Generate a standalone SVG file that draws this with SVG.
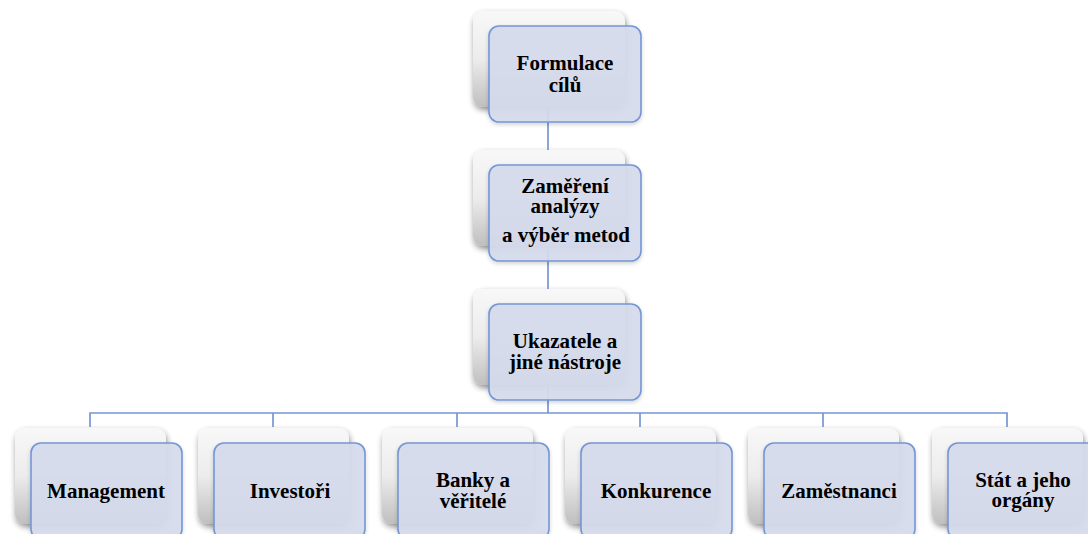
<svg xmlns="http://www.w3.org/2000/svg" width="1088" height="534" viewBox="0 0 1088 534">
  <defs>
    <linearGradient id="backFill" x1="0" y1="0" x2="0" y2="1">
      <stop offset="0" stop-color="#f8f8f8"/>
      <stop offset="0.5" stop-color="#ececec"/>
      <stop offset="1" stop-color="#bfbfbf"/>
    </linearGradient>
    <filter id="shadow" x="-10%" y="-10%" width="125%" height="130%">
      <feGaussianBlur in="SourceAlpha" stdDeviation="3"/>
      <feOffset dx="1" dy="3" result="b"/>
      <feComponentTransfer><feFuncA type="linear" slope="0.45"/></feComponentTransfer>
      <feMerge><feMergeNode/><feMergeNode in="SourceGraphic"/></feMerge>
    </filter>
    <filter id="softShadow" x="-10%" y="-10%" width="125%" height="130%">
      <feGaussianBlur in="SourceAlpha" stdDeviation="2"/>
      <feOffset dx="0" dy="2" result="b"/>
      <feComponentTransfer><feFuncA type="linear" slope="0.18"/></feComponentTransfer>
      <feMerge><feMergeNode/><feMergeNode in="SourceGraphic"/></feMerge>
    </filter>
  </defs>
  <style>
    .back { fill: url(#backFill); filter: url(#shadow); }
    .front { fill: #d6dcee; fill-opacity: 0.93; stroke: #7596d4; stroke-width: 1.6; filter: url(#softShadow); }
    .conn { fill: none; stroke: #7596d4; stroke-width: 1.7; }
    text { font-family: "Liberation Serif", "Times New Roman", serif; font-weight: bold; font-size: 21px; fill: #000; text-anchor: middle; }
  </style>

  <rect width="1088" height="534" fill="#ffffff"/>

  <!-- back cards (drawn first so connectors sit on top of them) -->
  <g id="backs">
    <rect class="back" x="473" y="11" width="152" height="96" rx="10"/>
    <rect class="back" x="473" y="150" width="152" height="96" rx="10"/>
    <rect class="back" x="473" y="289" width="152" height="96" rx="10"/>
    <rect class="back" x="15" y="428" width="151" height="96" rx="10"/>
    <rect class="back" x="198" y="428" width="151" height="96" rx="10"/>
    <rect class="back" x="382" y="428" width="151" height="96" rx="10"/>
    <rect class="back" x="565" y="428" width="151" height="96" rx="10"/>
    <rect class="back" x="748" y="428" width="151" height="96" rx="10"/>
    <rect class="back" x="932" y="428" width="151" height="96" rx="10"/>
  </g>

  <!-- connectors -->
  <g id="connectors">
    <path class="conn" d="M548,106 V150"/>
    <path class="conn" d="M548,245 V289"/>
    <path class="conn" d="M548,384 V413"/>
    <path class="conn" d="M90,427 V413 H1007 V427"/>
    <path class="conn" d="M273,413 V427"/>
    <path class="conn" d="M457,413 V427"/>
    <path class="conn" d="M640,413 V427"/>
    <path class="conn" d="M823,413 V427"/>
  </g>

  <g id="node-formulace">
    <rect class="front" x="489" y="26" width="152" height="96" rx="10"/>
    <text x="565" y="70">Formulace</text>
    <text x="565" y="92">cílů</text>
  </g>

  <g id="node-zamereni">
    <rect class="front" x="489" y="165" width="152" height="96" rx="10"/>
    <text x="565" y="193">Zaměření</text>
    <text x="565" y="213">analýzy</text>
    <text x="566" y="242">a výběr metod</text>
  </g>

  <g id="node-ukazatele">
    <rect class="front" x="489" y="304" width="152" height="96" rx="10"/>
    <text x="565" y="348">Ukazatele a</text>
    <text x="565" y="369">jiné nástroje</text>
  </g>

  <g id="node-management">
    <rect class="front" x="31" y="443" width="151" height="96" rx="10"/>
    <text x="106" y="498">Management</text>
  </g>

  <g id="node-investori">
    <rect class="front" x="214" y="443" width="151" height="96" rx="10"/>
    <text x="290" y="498">Investoři</text>
  </g>

  <g id="node-banky">
    <rect class="front" x="398" y="443" width="151" height="96" rx="10"/>
    <text x="473" y="487">Banky a</text>
    <text x="473" y="508">věřitelé</text>
  </g>

  <g id="node-konkurence">
    <rect class="front" x="581" y="443" width="151" height="96" rx="10"/>
    <text x="656" y="498">Konkurence</text>
  </g>

  <g id="node-zamestnanci">
    <rect class="front" x="764" y="443" width="151" height="96" rx="10"/>
    <text x="839" y="498">Zaměstnanci</text>
  </g>

  <g id="node-stat">
    <rect class="front" x="948" y="443" width="151" height="96" rx="10"/>
    <text x="1023" y="487">Stát a jeho</text>
    <text x="1023" y="507">orgány</text>
  </g>
</svg>
